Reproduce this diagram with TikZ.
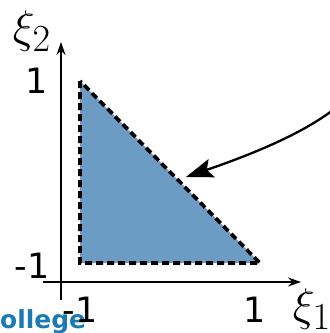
\documentclass[tikz,border=0pt]{standalone}
\usepackage{fontspec}
\setmainfont{DejaVu Sans}
\usetikzlibrary{arrows.meta}
\definecolor{trifill}{RGB}{108,155,196}
\definecolor{logoblue}{RGB}{28,122,178}
\newcommand{\biglabel}[1]{\scalebox{1.85}{\fontsize{24.88}{26}\selectfont$#1$}}
\begin{document}
\begin{tikzpicture}[x=1bp,y=-1bp,
  axis/.style={line width=1.3bp,-{Stealth[length=13bp,width=9bp]}},
  tick/.style={font=\fontsize{35}{38}\selectfont, inner sep=0pt},
  axlabel/.style={inner sep=0pt},
  region/.style={fill=trifill, draw=black, line width=3.7bp, dash pattern=on 7bp off 4bp},
  pointer/.style={line width=2.3bp,-{Stealth[length=27bp,width=19bp,inset=5bp]}}]
\useasboundingbox (0,0) rectangle (330,333);
% logo fragment
\node[anchor=base west, inner sep=0pt, text=logoblue, font=\bfseries\fontsize{25}{27}\selectfont] (logo) at (0,328) {ollege};
% axes
\coordinate (ybot) at (61,300);
\coordinate (ytop) at (61,42);
\coordinate (xleft) at (43,282);
\coordinate (xright) at (301,282);
\draw[axis] (ybot) -- (ytop);
\draw[axis] (xleft) -- (xright);
% triangle
\coordinate (A) at (80,81);
\coordinate (B) at (80,263);
\coordinate (C) at (260,263);
\draw[region] (A) -- (B) -- (C) -- cycle;
% labels
\node[axlabel] (xi2) at (32,31) {\biglabel{\xi_2}};
\node[axlabel] (xi1) at (312,309) {\biglabel{\xi_1}};
\node[tick] (ty1) at (37,81) {1};
\node[tick] (tym) at (32,266) {-1};
\node[tick] (txm) at (80,310) {-1};
\node[tick] (tx1) at (255,310) {1};
% pointer arrow
\coordinate (pstart) at (333,110);
\coordinate (ptip) at (186,177);
\draw[pointer] (pstart) .. controls (300,135) and (250,155) .. (ptip);
\end{tikzpicture}
\end{document}
